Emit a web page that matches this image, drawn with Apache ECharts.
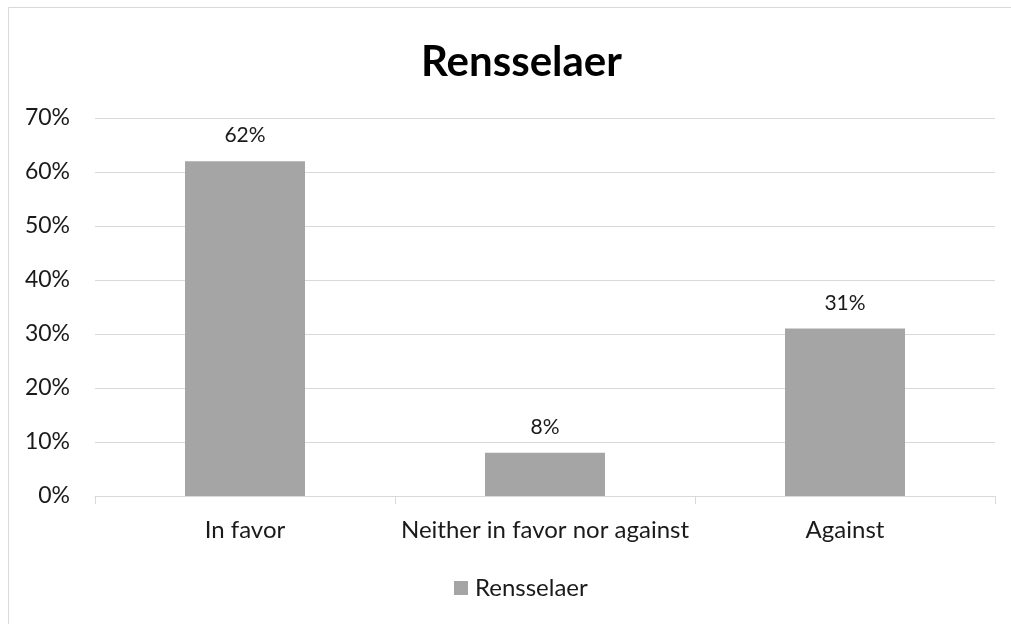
<!DOCTYPE html>
<html>
<head>
<meta charset="utf-8">
<script src="https://cdn.jsdelivr.net/npm/echarts@6/dist/echarts.min.js"></script>
<style>html,body{margin:0;padding:0;background:#fff}#c{width:1011px;height:624px}</style>
</head>
<body>
<div id="c"></div>
<script>
var categories = ['In favor', 'Neither in favor nor against', 'Against'];
var seriesName = 'Rensselaer';
var values = [62, 8, 31];
var titleText = 'Rensselaer';

var font = 'Lato';
var chart = echarts.init(document.getElementById('c'));
chart.setOption({
  animation: false,
  backgroundColor: '#fff',
  textStyle: { fontFamily: font },
  graphic: [{
    type: 'rect', left: 6, top: 5, silent: true,
    shape: { width: 1030, height: 640 },
    style: { fill: 'none', stroke: '#d9d9d9', lineWidth: 1 }
  }],
  title: {
    text: titleText, left: 416, top: 36,
    textStyle: { fontFamily: font, fontSize: 42, fontWeight: 'bold', color: '#000' }
  },
  legend: {
    data: [seriesName], top: 571, left: 449,
    itemWidth: 14, itemHeight: 14, itemGap: 8,
    icon: 'rect',
    textStyle: { fontFamily: font, fontSize: 24, color: '#1a1a1a', padding: [0, 0, 0, 2] }
  },
  grid: { left: 95, right: 16, top: 118, bottom: 128, containLabel: false },
  xAxis: {
    type: 'category', data: categories,
    axisLine: { lineStyle: { color: '#d9d9d9' } },
    axisTick: { show: true, length: 8, alignWithLabel: false, lineStyle: { color: '#d9d9d9' } },
    axisLabel: { interval: 0, hideOverlap: false, fontFamily: font, fontSize: 24, color: '#1a1a1a', margin: 22 }
  },
  yAxis: {
    type: 'value', min: 0, max: 70, interval: 10,
    axisLine: { show: false }, axisTick: { show: false },
    splitLine: { lineStyle: { color: '#d9d9d9' } },
    axisLabel: { fontFamily: font, fontSize: 23, color: '#1a1a1a', margin: 25, formatter: '{value}%' }
  },
  series: [{
    name: seriesName, type: 'bar', data: values, barWidth: '40%',
    itemStyle: { color: '#a5a5a5' },
    label: { show: true, position: 'top', distance: 15, formatter: '{c}%',
      fontFamily: font, fontSize: 21, color: '#1a1a1a' }
  }]
});
</script>
</body>
</html>
